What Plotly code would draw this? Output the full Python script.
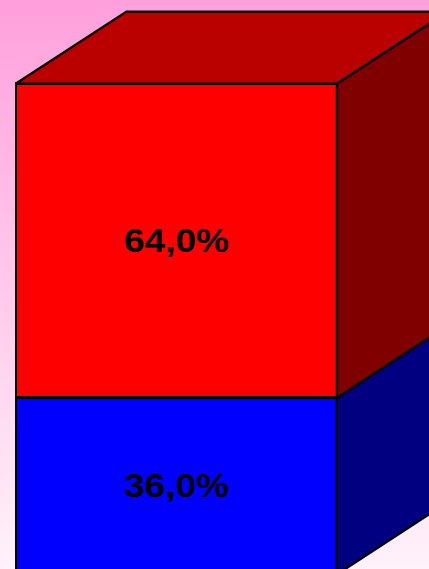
import plotly.graph_objects as go

# Data
categories = ["A", "B"]
values = [36.0, 64.0]            # bottom to top
value_labels = ["36,0%", "64,0%"]
front_colors = ["#0000ff", "#ff0000"]
side_colors = ["#000080", "#800000"]
top_color = "#bb0000"

# Plot window, in data units (1 bar width across; percent upward)
X_RANGE = [-16 / 321, 413 / 321]
Y_RANGE = [1.08, 117.04]
DEPTH_X = 110.5 / 321
DEPTH_Y = 72 / 4.906

fig = go.Figure()

# Background gradient
fig.add_trace(go.Heatmap(
    x=[X_RANGE[0], X_RANGE[1]], y=[Y_RANGE[0], Y_RANGE[1]],
    z=[[0, 0], [1, 1]], zsmooth="best", showscale=False, hoverinfo="skip",
    zmin=0, zmax=1,
    colorscale=[[0, "rgb(255,242,250)"], [1, "rgb(255,160,220)"]],
))

# Front faces
for name, v, label, color in zip(categories, values, value_labels, front_colors):
    fig.add_trace(go.Bar(
        x=[0.5], y=[v], width=[1], name=name,
        marker=dict(color=color, line=dict(color="black", width=2.4)),
        text=[label], textposition="inside", insidetextanchor="middle",
        textangle=0, constraintext="none",
        textfont=dict(family="Liberation Sans", size=33, color="black", weight="bold"),
        hoverinfo="skip",
    ))

# Depth faces derived from the values
line = dict(color="black", width=2.4)
base = 0
for v, color in zip(values, side_colors):
    fig.add_trace(go.Scatter(
        x=[1, 1 + DEPTH_X, 1 + DEPTH_X, 1, 1],
        y=[base, base + DEPTH_Y, base + v + DEPTH_Y, base + v, base],
        mode="lines", fill="toself", fillcolor=color, line=line, hoverinfo="skip",
    ))
    base += v
fig.add_trace(go.Scatter(
    x=[0, DEPTH_X, 1 + DEPTH_X, 1, 0],
    y=[base, base + DEPTH_Y, base + DEPTH_Y, base, base],
    mode="lines", fill="toself", fillcolor=top_color, line=line, hoverinfo="skip",
))

fig.update_layout(
    width=429, height=569, margin=dict(l=0, r=0, t=0, b=0), autosize=False,
    barmode="stack", showlegend=False,
    paper_bgcolor="white", plot_bgcolor="rgba(0,0,0,0)",
    xaxis=dict(range=X_RANGE, visible=False, fixedrange=True),
    yaxis=dict(range=Y_RANGE, visible=False, fixedrange=True),
)

# Remove the page margin and widen the labels as in the reference
script = """
document.body.style.margin='0';
document.documentElement.style.overflow='hidden';
function stretch(){
  document.querySelectorAll('text.bartext').forEach(function(t){
    t.setAttribute('textLength','105');
    t.setAttribute('lengthAdjust','spacingAndGlyphs');
  });
}
stretch();
setTimeout(stretch,50);
"""
fig.write_html("out.html", config=dict(displayModeBar=False),
               default_width="429px", default_height="569px",
               post_script=script)
